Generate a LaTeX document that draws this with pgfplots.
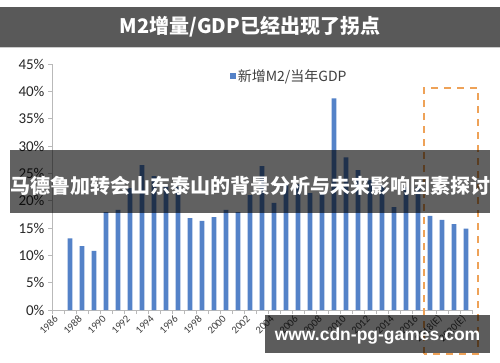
\documentclass[border=0pt]{standalone}
\usepackage{fontspec}
\setmainfont{Carlito}
\newfontfamily\cjk{Noto Sans CJK SC}
\newfontfamily\wm{Liberation Sans}
\usepackage{pgfplots}
\pgfplotsset{compat=1.18}
\definecolor{barblue}{RGB}{84,130,200}
\definecolor{titlegray}{RGB}{89,89,89}
\definecolor{dashorange}{RGB}{238,162,88}
\definecolor{axgray}{RGB}{185,185,185}
\definecolor{txtgray}{RGB}{64,64,64}
\begin{document}
\begin{tikzpicture}[x=1pt,y=1pt]
\fill[white] (0,0) rectangle (500,362);
\path[use as bounding box] (0,0) rectangle (500,362);
\begin{axis}[
  at={(52pt,52pt)}, anchor=south west,
  scale only axis, width=420pt, height=246pt,
  xmin=1985.5, xmax=2020.5, ymin=0, ymax=45,
  ybar, bar width=4.8pt,
  every axis plot post/.append style={legend image code/.code={\fill[barblue] (0pt,-2.8pt) rectangle (5.5pt,2.8pt);}},
  clip=false,
  axis x line*=bottom, axis y line*=left,
  axis line style={axgray, line width=0.8pt},
  tick align=outside, major tick length=4pt, minor tick length=4pt,
  tick style={axgray, line width=0.8pt},
  major x tick style={draw=none},
  xtick={1986,1988,...,2020},
  xticklabels={1986,1988,1990,1992,1994,1996,1998,2000,2002,2004,2006,2008,2010,2012,2014,2016,2018(E),2020(E)},
  minor xtick={1985.5,1986.5,...,2020.5},
  xticklabel style={rotate=45, anchor=east, font=\fontsize{10.5}{12}\selectfont, text=txtgray, yshift=-1pt},
  ytick={0,5,...,45},
  yticklabels={0\%,5\%,10\%,15\%,20\%,25\%,30\%,35\%,40\%,45\%},
  yticklabel style={font=\fontsize{15}{18}\selectfont, text=black!85},
  legend style={at={(0.417,0.951)}, anchor=west, draw=none, fill=none, font=\cjk\fontsize{14}{16}\selectfont, text=txtgray},
]
\addplot[fill=barblue, draw=none] coordinates {
(1987,13.1) (1988,11.7) (1989,10.8) (1990,17.9) (1991,18.3) (1992,22.3)
(1993,26.5) (1994,24.5) (1995,22.6) (1996,22.5) (1997,16.8) (1998,16.3)
(1999,17.0) (2000,18.3) (2001,17.9) (2002,21.0) (2003,26.3) (2004,19.6)
(2005,23.0) (2006,23.0) (2007,21.4) (2008,21.5) (2009,38.7) (2010,27.9)
(2011,25.6) (2012,23.8) (2013,22.8) (2014,18.8) (2015,22.5) (2016,22.5)
(2017,17.2) (2018,16.5) (2019,15.7) (2020,14.9)};
\addlegendentry{新增M2/当年GDP}
\draw[dashorange, line width=2pt, dash pattern=on 7pt off 6pt] (axis cs:2016.5,-8.05) rectangle (axis cs:2021.0,40.6);
\end{axis}
% title bar
\fill[titlegray] (0,315) rectangle (500,355);
\fill[black!20] (0,313.5) rectangle (500,315);
\node[text=white, font=\cjk\bfseries\fontsize{20}{24}\selectfont] at (250,335) {M2增量/GDP已经出现了拐点};
% banner
\fill[black, opacity=0.62] (10,149) rectangle (490,212);
\node[text=white, font=\cjk\bfseries\fontsize{20}{24}\selectfont] at (250,176) {马德鲁加转会山东泰山的背景分析与未来影响因素探讨};
% watermark
\fill[black, opacity=0.64] (265,9.5) rectangle (490,47);
\node[text=white, font=\wm\bfseries\fontsize{17.5}{20}\selectfont] at (377.5,26) {www.cdn-pg-games.com};
\end{tikzpicture}
\end{document}
